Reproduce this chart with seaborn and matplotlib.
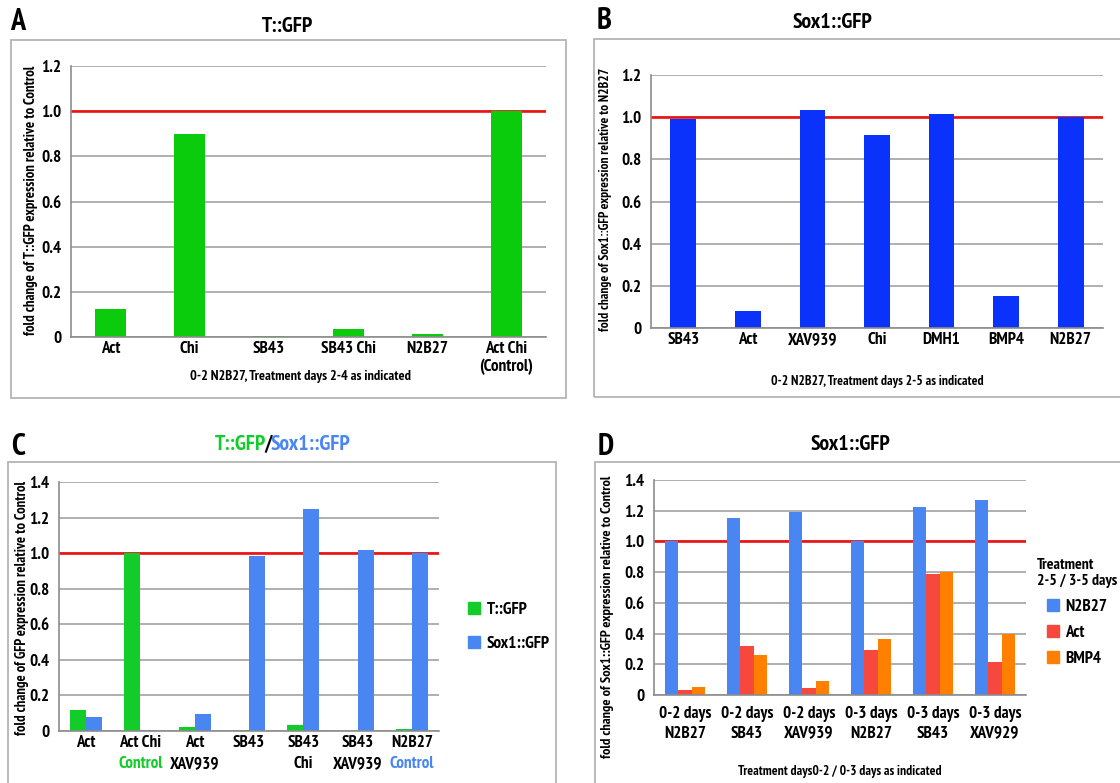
import matplotlib
matplotlib.use("Agg")
import matplotlib.pyplot as plt
import matplotlib.transforms as mtransforms
from matplotlib import font_manager
from matplotlib.patches import Patch, Rectangle
import numpy as np
import pandas as pd
import seaborn as sns

# ---- data -------------------------------------------------------------
a_cats = ["Act", "Chi", "SB43", "SB43 Chi", "N2B27", "Act Chi\n(Control)"]
a_vals = [0.125, 0.90, 0.003, 0.035, 0.015, 1.0]

b_cats = ["SB43", "Act", "XAV939", "Chi", "DMH1", "BMP4", "N2B27"]
b_vals = [0.99, 0.08, 1.035, 0.915, 1.015, 0.15, 1.0]

c_cats = ["Act", "Act Chi", "Act XAV939", "SB43", "SB43 Chi", "SB43 XAV939", "N2B27"]
c_top = ["Act", "Act Chi", "Act", "SB43", "SB43", "SB43", "N2B27"]
c_bottom = ["", "Control", "XAV939", "", "Chi", "XAV939", "Control"]
c_t_gfp = [0.12, 1.0, 0.02, 0.003, 0.035, 0.0, 0.01]
c_sox_gfp = [0.08, 0.003, 0.095, 0.985, 1.25, 1.02, 1.0]

d_cats = ["0-2 days\nN2B27", "0-2 days\nSB43", "0-2 days\nXAV939",
          "0-3 days\nN2B27", "0-3 days\nSB43", "0-3 days\nXAV929"]
d_n2b27 = [1.0, 1.15, 1.19, 1.0, 1.225, 1.27]
d_act = [0.035, 0.32, 0.045, 0.29, 0.785, 0.215]
d_bmp4 = [0.055, 0.26, 0.09, 0.365, 0.80, 0.40]

# ---- style ------------------------------------------------------------
sns.set_style("white")
# condensed bold face if one is around, plain sans otherwise
wanted = ["PT Sans Narrow", "Roboto Condensed", "Asap Condensed",
          "Barlow Semi Condensed", "Liberation Sans Narrow", "Liberation Sans"]
have = {f.name for f in font_manager.fontManager.ttflist}
families = [f for f in wanted if f in have] + ["DejaVu Sans"]
plt.rcParams["font.family"] = families[:1] + ["DejaVu Sans"]
plt.rcParams["font.weight"] = "bold"
plt.rcParams["text.color"] = "black"
plt.rcParams["xtick.labelcolor"] = "black"
plt.rcParams["ytick.labelcolor"] = "black"

GREEN_A = "#0acc0c"
BLUE_B = "#0a32fa"
GREEN_C = "#12cc2a"
BLUE_C = "#4a86f2"
RED_D = "#f7483d"
ORANGE_D = "#ff8000"
RED_LINE = "#ee1111"
GRID = "#9a9a9a"
AXIS = "#8c8c8c"
BOX = "#b4b4b4"

W, H = 1120, 783
fig = plt.figure(figsize=(W / 100, H / 100), dpi=100)
renderer = fig.canvas.get_renderer()


def fit_size(s, target_px):
    # font size that makes text s about target_px wide
    t = fig.text(0, 0, s, fontsize=10, fontweight="bold")
    w = t.get_window_extent(renderer).width
    t.remove()
    return 10 * target_px / w


TICK = min(fit_size("SB43 Chi", 55), 13)
TITLE = min(fit_size("Sox1::GFP", 80), 17)
LETTER = TITLE * 1.4
LEG_TITLE = min(fit_size("2-5 / 3-5 days", 80), TICK)


def px_rect(l, t, r, b):
    return [l / W, 1 - b / H, (r - l) / W, (b - t) / H]


def ftext(x, y, s, **kw):
    return fig.text(x / W, 1 - y / H, s, ha=kw.pop("ha", "center"),
                    va=kw.pop("va", "center"), **kw)


def fit_text(x, y, s, width, **kw):
    return ftext(x, y, s, fontsize=fit_size(s, width), **kw)


def box(l, t, r, b):
    fig.add_artist(Rectangle((l / W, 1 - b / H), (r - l) / W, (b - t) / H,
                             transform=fig.transFigure, fill=False,
                             ec=BOX, lw=1.3))


def style_axes(ax, n, ymax, sep_len=4):
    ax.set_xlim(-0.5, n - 0.5)
    ax.set_ylim(0, ymax)
    yt = np.round(np.arange(0, ymax + 0.001, 0.2), 1)
    ax.set_yticks(yt)
    ax.set_yticklabels(["0"] + [f"{v:.1f}" for v in yt[1:]])
    ax.yaxis.grid(True, color=GRID, lw=1.1)
    ax.xaxis.grid(False)
    ax.set_axisbelow(True)
    for s in ["top", "right"]:
        ax.spines[s].set_visible(False)
    for s in ["left", "bottom"]:
        ax.spines[s].set_color(AXIS)
        ax.spines[s].set_linewidth(1.2)
    ax.set_xticks(np.arange(-0.5, n, 1.0), minor=True)
    ax.tick_params(axis="x", which="major", length=0, labelsize=TICK, pad=3)
    ax.tick_params(axis="x", which="minor", length=sep_len, width=1.1,
                   color=AXIS, direction="out")
    ax.tick_params(axis="y", length=4, width=1.1, color=AXIS,
                   labelsize=TICK, pad=3)
    ax.axhline(1.0, color=RED_LINE, lw=1.9, zorder=0.9)
    ax.set_xlabel("")
    ax.set_ylabel("")


bar_kw = dict(saturation=1, linewidth=0, edgecolor="none")

# ---- panel A ----------------------------------------------------------
box(11, 40, 566, 398)
axA = fig.add_axes(px_rect(71, 66, 546, 337))
sns.barplot(x=a_cats, y=a_vals, color=GREEN_A, width=0.39, ax=axA, **bar_kw)
style_axes(axA, len(a_cats), 1.2)
axA.set_xticks(range(len(a_cats)))
axA.set_xticklabels(a_cats, linespacing=1.1)
ftext(18, 22, "A", fontsize=LETTER)
ftext(287, 26, "T::GFP", fontsize=TITLE)
fit_text(31, 200, "fold change of T::GFP expression relative to Control", 272,
         rotation=90)
fit_text(301, 377, "0-2 N2B27, Treatment days 2-4 as indicated", 223)

# ---- panel B ----------------------------------------------------------
box(594, 39, 1130, 397)
axB = fig.add_axes(px_rect(651, 75, 1103, 328))
sns.barplot(x=b_cats, y=b_vals, color=BLUE_B, width=0.40, ax=axB, **bar_kw)
style_axes(axB, len(b_cats), 1.2)
axB.set_xticks(range(len(b_cats)))
axB.set_xticklabels(b_cats)
ftext(604, 21, "B", fontsize=LETTER)
ftext(832, 22, "Sox1::GFP", fontsize=TITLE)
fit_text(606, 199, "fold change of Sox1::GFP expression relative to N2B27", 262,
         rotation=90)
fit_text(877, 381, "0-2 N2B27, Treatment days 2-5 as indicated", 212)

# ---- panel C ----------------------------------------------------------
box(8, 462, 556, 800)
axC = fig.add_axes(px_rect(59, 482, 439, 731))
c_df = pd.DataFrame({
    "cat": c_cats * 2,
    "val": c_t_gfp + c_sox_gfp,
    "series": ["T::GFP"] * len(c_cats) + ["Sox1::GFP"] * len(c_cats),
})
sns.barplot(data=c_df, x="cat", y="val", hue="series",
            palette={"T::GFP": GREEN_C, "Sox1::GFP": BLUE_C},
            width=0.59, legend=False, ax=axC, **bar_kw)
style_axes(axC, len(c_cats), 1.4)
axC.set_xticks(range(len(c_cats)))
axC.set_xticklabels(c_top)
trC = mtransforms.blended_transform_factory(axC.transData, fig.transFigure)
for i, lab in enumerate(c_bottom):
    col = "black"
    if lab == "Control":
        col = GREEN_C if c_t_gfp[i] >= c_sox_gfp[i] else BLUE_C
    axC.text(i, 1 - 764 / H, lab, transform=trC, ha="center", va="center",
             fontsize=TICK, color=col)
ftext(18, 447, "C", fontsize=LETTER)
ftext(266, 445, "T::GFP", fontsize=TITLE, color=GREEN_C, ha="right")
ftext(268.5, 445, "/", fontsize=TITLE)
ftext(271, 445, "Sox1::GFP", fontsize=TITLE, color=BLUE_C, ha="left")
fit_text(22, 608, "fold change of GFP expression relative to Control", 255,
         rotation=90)
fig.legend(handles=[Patch(color=GREEN_C), Patch(color=BLUE_C)],
           labels=["T::GFP", "Sox1::GFP"], loc="center left",
           bbox_to_anchor=(453 / W, 1 - 627 / H), frameon=False,
           handlelength=0.7, handleheight=0.7, handletextpad=0.35,
           labelspacing=1.0, fontsize=TICK)

# ---- panel D ----------------------------------------------------------
box(595, 462, 1130, 800)
axD = fig.add_axes(px_rect(654, 480, 1026, 695))
d_df = pd.DataFrame({
    "cat": d_cats * 3,
    "val": d_n2b27 + d_act + d_bmp4,
    "series": ["N2B27"] * 6 + ["Act"] * 6 + ["BMP4"] * 6,
})
sns.barplot(data=d_df, x="cat", y="val", hue="series",
            palette={"N2B27": BLUE_C, "Act": RED_D, "BMP4": ORANGE_D},
            width=0.66, legend=False, ax=axD, **bar_kw)
style_axes(axD, len(d_cats), 1.4, sep_len=38)
axD.set_xticks(range(len(d_cats)))
axD.set_xticklabels(d_cats, linespacing=1.3)
axD.tick_params(axis="x", which="major", pad=8)
ftext(606, 447, "D", fontsize=LETTER)
ftext(850, 445, "Sox1::GFP", fontsize=TITLE)
fit_text(608, 617, "fold change of Sox1::GFP expression relative to Control", 285,
         rotation=90)
fit_text(840, 771, "Treatment days0-2 / 0-3 days as indicated", 203)
fig.legend(handles=[Patch(color=BLUE_C), Patch(color=RED_D), Patch(color=ORANGE_D)],
           labels=["N2B27", "Act", "BMP4"], loc="upper center",
           bbox_to_anchor=(1077 / W, 1 - 546 / H), frameon=False,
           title="Treatment\n2-5 / 3-5 days",
           title_fontproperties={"weight": "bold", "size": LEG_TITLE},
           handlelength=0.7, handleheight=0.7, handletextpad=0.35,
           labelspacing=0.6, fontsize=TICK, alignment="center",
           borderpad=0.2)

fig.savefig("out.png", dpi=100)
